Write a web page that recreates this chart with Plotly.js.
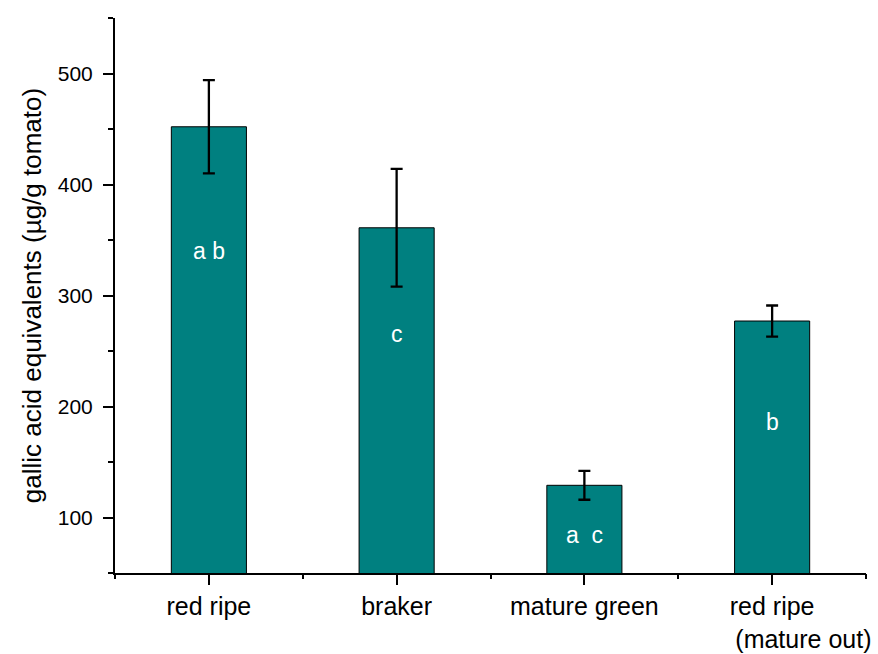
<!DOCTYPE html>
<html>
<head>
<meta charset="utf-8">
<script src="https://cdn.plot.ly/plotly-3.0.1.min.js"></script>
<style>body{margin:0;background:#fff}</style>
</head>
<body>
<div id="chart" style="width:878px;height:654px"></div>
<script>
const categories = ["red ripe", "braker", "mature green", "red ripe (mature out)"];
const tickLabels = ["red ripe", "braker", "mature green", "red ripe<br>\u00a0\u00a0\u00a0\u00a0\u00a0\u00a0\u00a0\u00a0\u00a0(mature out)"];
const values = [452, 361, 129, 277];
const errors = [42, 53, 13, 14];
const groupLetters = ["a b", "c", "a\u00a0\u00a0c", "b"];
const letterY = [340, 265, 84, 186];

const font = "Liberation Sans, Arial, sans-serif";

const traces = [
  {
    type: "bar",
    x: categories,
    y: values,
    width: 0.4,
    marker: {color: "#008080", line: {color: "#000", width: 1}},
    error_y: {type: "data", array: errors, visible: true, color: "#000", thickness: 2.3, width: 6},
    hoverinfo: "skip"
  },
  {
    type: "scatter",
    mode: "none",
    x: categories,
    y: values,
    xaxis: "x2",
    yaxis: "y",
    showlegend: false,
    hoverinfo: "skip"
  }
];

const annotations = categories.map((c, i) => ({
  x: c, y: letterY[i], xref: "x", yref: "y",
  text: groupLetters[i], showarrow: false,
  font: {family: font, size: 23, color: "#fff"},
  xanchor: "center", yanchor: "middle"
}));

const layout = {
  width: 878, height: 654,
  margin: {l: 115, r: 12, t: 18, b: 81},
  paper_bgcolor: "#fff", plot_bgcolor: "#fff",
  showlegend: false,
  font: {family: font, color: "#000"},
  xaxis: {
    type: "category",
    categoryarray: categories,
    range: [-0.5, 3.5],
    tickvals: categories,
    ticktext: tickLabels,
    ticks: "outside", ticklen: 10, tickwidth: 2, tickcolor: "#000",
    showline: true, linewidth: 2, linecolor: "#000",
    showgrid: false, zeroline: false,
    tickfont: {family: font, size: 25, color: "#000"},
    ticklabelstandoff: 0
  },
  xaxis2: {
    type: "category",
    overlaying: "x",
    categoryarray: categories,
    range: [-0.5, 3.5],
    tickson: "boundaries",
    ticks: "outside", ticklen: 5, tickwidth: 2, tickcolor: "#000",
    showticklabels: false, showline: false, showgrid: false, zeroline: false,
    side: "bottom"
  },
  yaxis: {
    range: [50, 550],
    tick0: 0, dtick: 100,
    ticks: "outside", ticklen: 10, tickwidth: 2, tickcolor: "#000",
    minor: {tick0: 0, dtick: 50, ticks: "outside", ticklen: 5, tickwidth: 2, tickcolor: "#000", showgrid: false},
    showline: true, linewidth: 2, linecolor: "#000",
    showgrid: false, zeroline: false,
    tickfont: {family: font, size: 21, color: "#000"},
    ticklabelstandoff: 6,
    title: {text: "\u00a0\u00a0gallic acid equivalents (\u00b5g/g tomato)", font: {family: font, size: 26, color: "#000"}, standoff: 9}
  },
  annotations: annotations
};

Plotly.newPlot("chart", traces, layout, {staticPlot: true, displayModeBar: false});
</script>
</body>
</html>
